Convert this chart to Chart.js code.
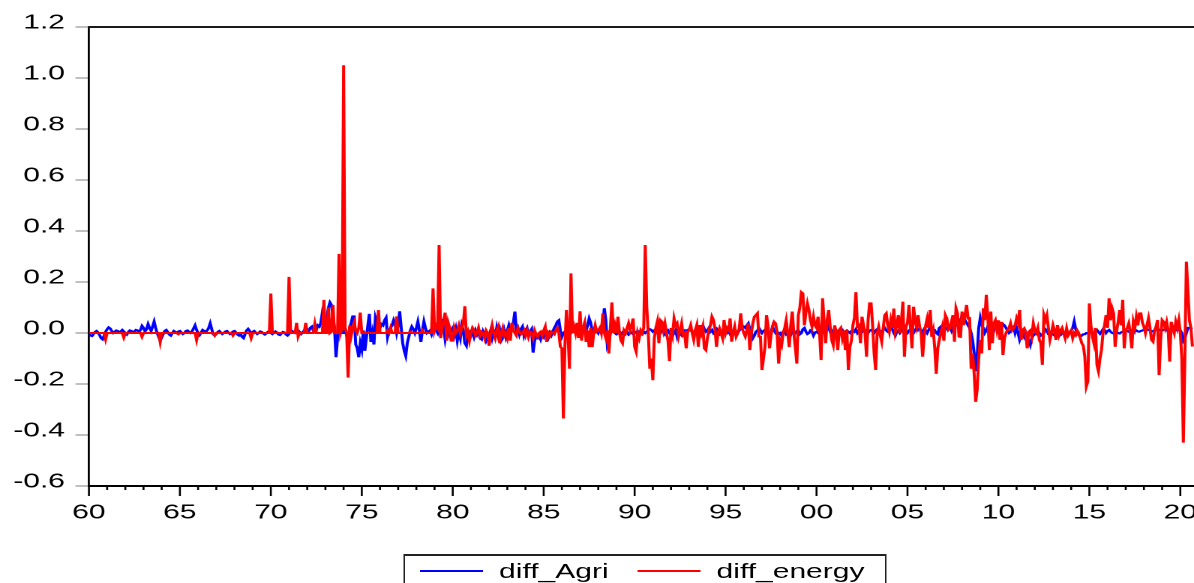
<!DOCTYPE html>
<html>
<head>
<meta charset="utf-8">
<script src="https://cdn.jsdelivr.net/npm/chart.js@4.4.0/dist/chart.umd.min.js"></script>
<style>
  html, body { margin: 0; padding: 0; overflow: hidden; background: #fff; }
  #wrap { position: absolute; left: 0; top: 0; width: 799px; height: 583px; transform: scaleX(1.5); transform-origin: 0 0; }
  #c { position: absolute; left: 0; top: 0; }
  #legend { position: absolute; left: 268.7px; top: 554px; width: 322.7px; height: 40px; box-sizing: border-box;
            border: 2px solid #222; border-left-width: 1.4px; border-right-width: 1.4px;
            font-family: 'Liberation Sans', Arial, sans-serif; font-size: 20px; color: #000; }
  #legend .ln { position: absolute; top: 14px; height: 2px; width: 42px; }
  #legend .tx { position: absolute; top: 3px; line-height: 24px; white-space: nowrap; }
</style>
</head>
<body>
<div id="wrap">
  <canvas id="c" width="799" height="583" style="width:799px;height:583px"></canvas>
  <div id="legend">
    <div class="ln" style="left:10px;background:#0000ff"></div>
    <div class="tx" style="left:63px">diff_Agri</div>
    <div class="ln" style="left:155px;background:#ff0000"></div>
    <div class="tx" style="left:208px">diff_energy</div>
  </div>
</div>
<script>
'use strict'
// monthly observations, 1960M01 - 2020M09
const startYear = 1960

const agri60s = [
  -0.005, -0.01, -0.012, -0.004, 0.004, 0.008, 0.002, -0.008, -0.02, -0.025, -0.01, 0.005,
  0.015, 0.022, 0.018, 0.008, 0, 0.005, 0.01, 0.008, 0.002, 0.006, 0.012, 0.006,
  0, -0.006, 0.004, 0.01, 0.008, 0.002, 0.006, 0.012, 0.01, 0.004, 0.012, 0.028,
  0.02, 0.006, 0.015, 0.035, 0.02, 0.008, 0.025, 0.045, 0.02, 0, -0.015, -0.03,
  -0.018, -0.004, 0.008, 0.012, 0.004, -0.006, -0.01, 0, 0.008, 0.004, 0, 0.006,
  0.008, 0.002, -0.004, 0, 0.008, 0.01, 0.004, 0, 0.006, 0.018, 0.03, 0.012,
  0, -0.008, 0.002, 0.012, 0.008, 0.004, 0.01, 0.02, 0.038, 0.015, -0.005, -0.01,
  -0.004, 0.004, 0.008, 0.002, -0.004, 0, 0.006, 0.008, 0.002, -0.004, 0, 0.006,
  0.008, 0.002, -0.006, -0.01, -0.004, -0.015, -0.02, -0.004, 0.01, 0.016, 0.008, 0,
  0.004, 0.008, 0.002, -0.004, 0, 0.006, 0.004, -0.002, -0.006, -0.002, 0.004, 0.002
]
const agri70s = [
  0, -0.004, 0.002, 0.006, 0.002, -0.006, -0.008, -0.002, 0.004, 0.002, -0.006, -0.01,
  -0.004, 0.004, 0.008, 0.004, 0, 0.006, 0.01, 0.004, -0.004, 0.002, 0.01, 0.006,
  0.014, 0.006, 0.02, 0.025, 0.01, 0.018, 0.012, 0.03, 0.025, 0.04, 0.08, 0.06,
  0.04, 0.06, 0.1, 0.12, 0.11, 0.06, 0.02, -0.095, -0.02, 0.03, 0.01, 0,
  0, 0.02, -0.01, -0.03, 0.02, 0.04, 0.065, 0.065, -0.045, -0.06, -0.095, -0.04,
  -0.065, 0.01, -0.07, -0.02, 0.03, 0.075, -0.035, 0, -0.045, 0.06, 0.04, 0.02,
  0.02, 0.035, 0.03, 0.05, 0.06, -0.015, 0.01, 0.02, 0.03, 0.05, 0.035, 0,
  0.03, 0.085, 0.02, -0.04, -0.07, -0.09, -0.04, -0.015, 0.01, 0.025, 0.015, 0,
  0.02, 0.045, 0.01, -0.035, 0.01, 0.045, 0.02, 0, 0.005, 0.01, -0.005, 0.015,
  0.025, 0.01, 0, 0.03, -0.01, 0.055, 0.02, -0.025, 0.01, 0.03, -0.005, 0.01
]
const agri80s = [
  0.02, -0.01, 0.015, -0.03, 0.005, -0.02, 0.03, 0.01, -0.04, -0.05, 0, 0.005,
  -0.01, 0.005, -0.015, 0.01, -0.005, 0.01, -0.02, -0.025, 0.005, -0.01, -0.03, -0.015,
  -0.01, 0.01, -0.02, 0.005, -0.015, 0.02, -0.01, 0.01, -0.03, -0.02, 0.01, -0.015,
  0.01, 0.03, 0.005, 0.02, 0.04, 0.084, 0.01, 0.02, -0.005, 0.015, 0.025, -0.01,
  0.01, 0.02, -0.01, 0.005, 0.015, -0.077, -0.03, -0.015, -0.02, -0.01, -0.025, -0.005,
  -0.015, 0.005, -0.01, -0.02, 0, -0.01, 0.005, 0.02, 0.03, 0.045, 0.05, 0.01,
  -0.015, 0, 0.005, 0, 0.01, -0.005, 0, 0.005, 0.01, 0, 0.012, 0.005,
  0.01, 0.015, 0.005, 0.02, 0.01, 0.03, 0.057, 0.04, 0.01, 0, 0.005, 0.01,
  0, 0.015, 0.005, 0.03, 0.097, 0.05, -0.047, -0.03, 0, 0.01, 0.005, 0,
  -0.005, 0, 0.005, -0.005, 0.002, -0.008, 0, 0.004, -0.006, 0, 0.003, -0.004
]
const agri90s = [
  0, 0.004, -0.003, 0.005, 0, -0.005, 0.005, 0, 0.006, 0.01, 0.015, 0.012,
  0.005, 0.01, 0, 0.008, 0.015, 0, 0.01, 0.005, -0.005, 0.004, 0.01, 0,
  0.005, -0.01, 0, 0.01, -0.014, 0.005, 0, -0.008, 0.006, 0.01, 0, 0.012,
  0.015, 0.01, 0.005, 0, 0.012, 0.02, 0.01, 0.018, 0.025, 0.03, 0.015, 0.005,
  0.01, 0.02, 0.005, 0.012, 0, 0.008, 0.015, 0, -0.005, 0.006, 0.01, 0,
  0.004, 0, 0.008, -0.004, 0.006, 0, 0.012, 0.005, 0, 0.01, 0.015, 0.02,
  0.025, 0.02, 0.03, 0.038, 0.015, 0, -0.02, -0.01, 0.005, 0.01, 0.02, 0.01,
  0, 0.008, 0.012, 0.005, 0, -0.008, 0.004, 0.025, 0.01, 0, 0.006, -0.004,
  0, -0.01, 0.005, 0.01, -0.005, 0, -0.02, -0.008, 0.01, 0.005, 0, 0.008,
  0.01, -0.005, 0, 0.015, 0.02, 0.005, -0.004, 0, 0.01, 0.006, -0.01, 0.002
]
const agri00s = [
  0.005, 0, 0.01, 0.02, 0.008, 0, 0.015, 0.045, 0.02, 0.005, 0.01, 0,
  0.005, 0.01, 0, -0.005, 0.008, 0.012, 0, 0.006, 0.01, 0.004, 0, 0.008,
  0.01, 0.005, 0.015, 0, 0.008, 0.012, 0.005, 0.018, 0.01, 0.004, 0, 0.01,
  0.012, 0.006, 0, 0.01, 0.015, 0.005, 0, 0.008, 0.012, 0.02, 0.01, 0.005,
  0.01, 0.02, 0.015, 0, -0.01, 0.005, 0.01, 0, 0.008, 0.015, 0.01, 0.005,
  0, 0.01, 0.015, 0.005, 0, 0.01, 0.02, 0.012, 0.018, 0.01, 0, 0.015,
  0.01, 0, 0.012, 0.02, 0.015, 0.005, 0.01, 0, -0.005, 0.02, 0.025, 0.015,
  0.01, 0.02, 0.015, 0.03, 0.025, 0.01, 0.03, 0.02, 0.035, 0.03, 0.05, 0.04,
  0.07, 0.06, 0.05, 0.04, 0.03, 0.02, 0, -0.03, -0.08, -0.15, -0.09, 0.02,
  0.058, 0.03, 0.02, 0, 0.01, 0.025, 0.015, 0, 0.02, 0.01, 0.03, 0.02
]
const agri10s = [
  0.03, 0.015, 0.02, 0.035, 0.03, 0.02, 0.01, 0, 0.005, 0.02, 0.025, 0,
  0.02, 0, -0.027, -0.01, 0, -0.015, 0, -0.02, -0.03, -0.047, -0.02, -0.01,
  -0.005, 0.005, 0.008, 0, -0.01, -0.005, 0, 0.015, 0.01, -0.005, -0.008, 0,
  -0.005, -0.01, -0.006, 0, -0.012, -0.008, 0, 0.002, -0.004, 0.005, -0.003, 0.002,
  0.01, 0.02, 0.045, 0.015, 0, -0.008, -0.015, -0.01, -0.005, -0.005, 0, -0.002,
  0, 0.005, -0.002, 0, 0.008, 0.012, 0.004, -0.003, 0.005, 0.015, 0.012, 0,
  0.008, 0.012, 0.005, 0, -0.002, 0, 0.004, 0, -0.002, 0.003, 0.005, 0.008,
  0.01, 0.008, 0.005, 0.012, 0.005, 0, 0.006, 0.01, 0.006, 0.005, 0.008, 0.01,
  0.012, 0.01, 0.015, 0.012, 0.01, 0.005, 0.008, 0.01, 0.012, 0.018, 0.01, 0.012,
  0.01, 0.012, 0.015, 0.01, 0.012, 0.01, 0.008, 0.012, 0.015, 0.012, 0.01, 0.012
]
const agri20s = [0.01, 0, -0.03, -0.02, 0, 0.02, 0.02, 0.018, 0.02]

const energy60s = [
  0, 0, 0, 0, 0, 0, 0, 0, 0, 0, 0, -0.025,
  0, 0, 0, 0, 0, 0, 0, 0, 0, 0, 0, -0.018,
  0, 0, 0, 0, 0, 0, 0, 0, 0, 0, 0, -0.015,
  0, 0, 0, 0, 0, 0, 0, 0, 0, 0, 0, -0.035,
  0, 0, 0, 0, 0, 0, 0, 0, 0, 0, 0, -0.005,
  0, 0, 0, 0, 0, 0, 0, 0, 0, 0, 0, -0.028,
  0, 0, 0, 0, 0, 0, 0, 0, 0, 0, 0, -0.01,
  0, 0, 0, 0, 0, 0, 0, 0, 0, 0, 0, -0.01,
  0, 0, 0, 0, 0, 0, 0, 0, 0, 0, 0, -0.02,
  0, 0, 0, 0, 0, 0, 0, 0, 0, 0, 0, 0
]
const energy70s = [
  0.155, 0, 0, 0, 0, 0, 0, 0, 0, 0, 0, 0,
  0.22, 0, 0, 0, 0, 0.04, -0.015, 0, 0, 0, 0, 0.04,
  0, 0, 0, 0, 0, 0.035, 0, 0, 0, 0, 0, 0.13,
  0, 0, 0.1, 0, 0.005, 0.11, 0, 0, 0, 0.31, 0, 0.02,
  1.05, 0.02, 0, -0.175, 0.03, -0.01, 0.02, 0.04, 0.01, 0, 0.02, 0.08,
  0, 0, 0, 0, 0, 0, 0, 0, 0, 0, 0, 0.09,
  0, 0, 0, 0, 0, 0.01, 0, 0.02, 0, 0, 0, 0.065,
  0, 0, 0, 0, 0, 0, 0, 0, 0.005, 0, 0, 0,
  0, 0, 0, 0, 0.01, 0, 0, 0, 0, 0, 0, 0.175,
  0.01, 0.03, 0.02, 0.345, -0.02, 0.02, 0.05, 0.08, -0.03, 0.04, 0.02, -0.03
]
const energy80s = [
  -0.03, 0.02, 0, 0.01, 0.03, 0, 0.02, 0.04, 0.105, -0.01, 0.005, -0.03,
  0, 0.02, 0.01, -0.01, 0, 0.02, -0.01, 0.005, 0, -0.02, 0.01, 0,
  -0.05, 0, 0.03, 0, -0.02, 0.01, 0.025, -0.04, 0, 0.02, -0.01, 0,
  -0.02, 0.02, -0.03, 0.04, 0.01, 0, -0.01, 0.02, 0.005, -0.005, 0, 0.01,
  -0.01, 0.01, -0.015, 0.005, 0, -0.02, 0.01, -0.005, -0.015, 0, 0.005, -0.01,
  0.01, 0.025, -0.035, 0, -0.01, 0.005, 0, -0.005, 0.01, 0.02, 0, -0.054,
  -0.06, -0.335, -0.05, 0.09, 0, -0.14, 0.234, 0, 0.025, 0, 0.04, -0.02,
  0.085, -0.03, 0.02, 0.04, -0.035, 0.01, -0.055, 0.02, -0.055, 0, 0.03, 0.005,
  0.01, 0.02, 0, 0.077, 0, -0.02, 0.01, -0.08, 0.02, 0.12, 0, 0.03,
  0, 0.064, 0, -0.03, -0.04, 0.01, 0, 0.02, 0.038, 0.01, 0.03, 0.057
]
const energy90s = [
  -0.054, -0.073, 0, -0.02, 0.01, 0, 0.02, 0.345, 0.1, 0, -0.14, -0.1,
  -0.185, -0.02, 0.02, 0.045, -0.04, 0.05, 0.044, 0.01, 0.038, 0, -0.03, -0.11,
  0.02, -0.008, 0.057, 0.03, 0.038, -0.014, 0.01, 0.038, -0.008, 0, -0.06, 0.005,
  0.012, 0.031, 0, -0.027, 0.01, 0.031, -0.054, 0.031, 0, 0.025, -0.06, -0.067,
  -0.02, 0.012, 0.03, 0.064, 0.051, 0.018, -0.054, 0, 0.018, 0, -0.02, 0.051,
  0, 0.02, 0.012, 0.057, -0.034, 0, 0.025, -0.014, 0, 0.018, 0.077, 0.018,
  0, -0.014, 0.01, 0.038, -0.067, 0, 0.038, 0.064, 0.07, 0.077, -0.014, -0.015,
  -0.145, -0.1, -0.054, 0.07, 0.03, -0.06, -0.008, 0.025, 0.044, 0.038, 0, -0.12,
  -0.03, -0.047, 0, 0.02, 0.05, 0, -0.055, 0.03, 0.084, 0, -0.055, -0.12,
  0.07, 0.1, 0.16, 0.155, 0.03, 0.08, 0.116, 0.09, 0.05, 0.025, 0.064, 0.03
]
const energy00s = [
  0.02, 0.064, 0, -0.106, 0.136, 0.045, -0.04, 0.05, 0.09, 0.025, -0.027, -0.047,
  0.03, 0, -0.067, 0.012, 0.02, -0.02, 0.01, -0.067, 0.012, -0.145, -0.055, -0.03,
  0.03, 0.06, 0.16, 0.025, 0.03, -0.04, 0.064, 0.03, 0, -0.093, 0.05, 0.116,
  0.116, 0.03, -0.08, -0.145, 0, 0.025, -0.008, -0.034, 0.02, 0.07, 0.077, 0.03,
  0.005, 0.05, 0.02, 0.096, 0.005, 0.03, 0.07, 0, 0.05, 0.123, -0.093, 0.025,
  0.04, 0.11, 0.02, -0.06, 0.103, 0.05, 0.025, 0.07, 0.025, 0, -0.093, -0.015,
  0.03, 0.057, 0.02, 0.09, -0.015, 0.01, -0.06, -0.16, -0.06, -0.027, 0, 0.025,
  -0.03, 0.07, 0.057, 0.012, 0.018, 0.044, 0.07, -0.034, 0.097, 0.077, -0.014, -0.015,
  0.084, 0.031, 0.07, 0.11, 0.057, 0.058, -0.14, -0.08, -0.16, -0.27, -0.22, -0.1,
  -0.027, -0.08, 0.097, 0.05, 0.15, 0.064, -0.067, 0.084, -0.04, 0.038, 0.05, 0.012
]
const energy10s = [
  0.05, -0.027, 0.044, -0.086, -0.02, 0, 0.012, 0.02, 0.038, 0.01, 0.018, 0.03,
  0.058, 0.04, 0.09, -0.027, 0.012, 0.018, 0, -0.06, 0.005, 0.01, -0.014, 0.038,
  0.01, 0, 0.02, -0.027, -0.04, -0.125, 0.07, 0.05, 0.07, 0.018, -0.027, 0,
  0.031, 0.01, -0.027, 0.031, -0.008, 0.01, 0.02, 0, -0.02, 0.018, -0.01, 0,
  0.01, -0.02, 0, -0.008, 0.01, 0, -0.02, -0.04, -0.05, -0.093, -0.21, -0.19,
  0.116, 0.03, -0.014, -0.04, 0.02, -0.125, -0.15, -0.1, -0.067, 0, 0.03, 0.07,
  0.02, 0.136, 0.05, 0.097, 0.077, -0.054, 0.01, 0.044, 0.09, 0.03, 0.13, -0.06,
  0.012, 0.02, 0.038, 0, -0.06, 0.044, 0.02, 0.064, 0.03, 0.077, 0.077, 0.04,
  0.025, 0, 0.031, 0.058, 0.02, -0.027, -0.034, 0.01, 0.025, 0.051, -0.165, -0.03,
  0.051, 0.044, 0.02, 0.044, 0.01, -0.112, 0.044, 0.02, 0, 0.044, 0.02, 0.051
]
const energy20s = [0, -0.1, -0.43, -0.1, 0.28, 0.17, 0.05, 0.02, -0.053]

const yTicks = [-0.6, -0.4, -0.2, 0.0, 0.2, 0.4, 0.6, 0.8, 1.0, 1.2]

const agri = [].concat(agri60s, agri70s, agri80s, agri90s, agri00s, agri10s, agri20s)
const energy = [].concat(energy60s, energy70s, energy80s, energy90s, energy00s, energy10s, energy20s)
const toPoints = arr => arr.map((v, i) => ({ x: startYear + i / 12, y: v }))

Chart.defaults.font.family = "'Liberation Sans', Arial, sans-serif"
Chart.defaults.font.size = 20
Chart.defaults.color = '#000'

// year tick marks under the axis and the top frame line
const frame = {
  id: 'frame',
  afterDraw(chart) {
    const { ctx, chartArea: a, scales: { x } } = chart
    ctx.save()
    ctx.strokeStyle = '#000'
    ctx.lineWidth = 1.3
    x.ticks.forEach(t => {
      const px = x.getPixelForValue(t.value)
      const len = t.value % 5 === 0 ? 10 : 4
      ctx.beginPath()
      ctx.moveTo(px, a.bottom)
      ctx.lineTo(px, a.bottom + len)
      ctx.stroke()
    })
    ctx.strokeStyle = '#1a1a1a'
    ctx.lineWidth = 2
    ctx.beginPath()
    ctx.moveTo(a.left - 0.7, a.top)
    ctx.lineTo(a.right, a.top)
    ctx.stroke()
    ctx.restore()
  }
}

const config = {
  type: 'line',
  data: {
    datasets: [
      { label: 'diff_Agri', data: toPoints(agri), borderColor: '#0000ff', borderWidth: 2, order: 1 },
      { label: 'diff_energy', data: toPoints(energy), borderColor: '#ff0000', borderWidth: 2, order: 0 }
    ]
  },
  options: {
    responsive: false,
    devicePixelRatio: 2,
    animation: false,
    events: [],
    elements: { point: { radius: 0 }, line: { tension: 0 } },
    layout: { padding: { top: 27, right: 0, left: 0, bottom: 0 } },
    plugins: { legend: { display: false }, tooltip: { enabled: false } },
    scales: {
      x: {
        type: 'linear',
        position: 'bottom',
        min: 1960,
        max: 2021,
        afterFit: s => {
          s.height = 97
          s.paddingLeft = 0
          s.paddingRight = 0
        },
        ticks: {
          stepSize: 1,
          autoSkip: false,
          maxRotation: 0,
          padding: 15,
          callback: v => (v % 5 === 0 && v <= 2020) ? String(v).slice(2) : ''
        },
        grid: { display: true, drawOnChartArea: false, drawTicks: false },
        border: { display: true, color: '#000', width: 2 }
      },
      y: {
        min: -0.6,
        max: 1.2,
        afterFit: s => { s.width = 59.3 },
        afterBuildTicks: s => { s.ticks = yTicks.map(v => ({ value: v })) },
        ticks: {
          padding: 7,
          labelOffset: -4,
          callback: v => (Math.abs(v) < 1e-9 ? 0 : v).toFixed(1)
        },
        grid: { drawOnChartArea: false, drawTicks: true, tickLength: 9, tickColor: '#808080', tickWidth: 1 },
        border: { display: true, color: '#000', width: 1.4 }
      }
    }
  },
  plugins: [frame]
}

let chart = new Chart(document.querySelector('#c'), config)
</script>
</body>
</html>
